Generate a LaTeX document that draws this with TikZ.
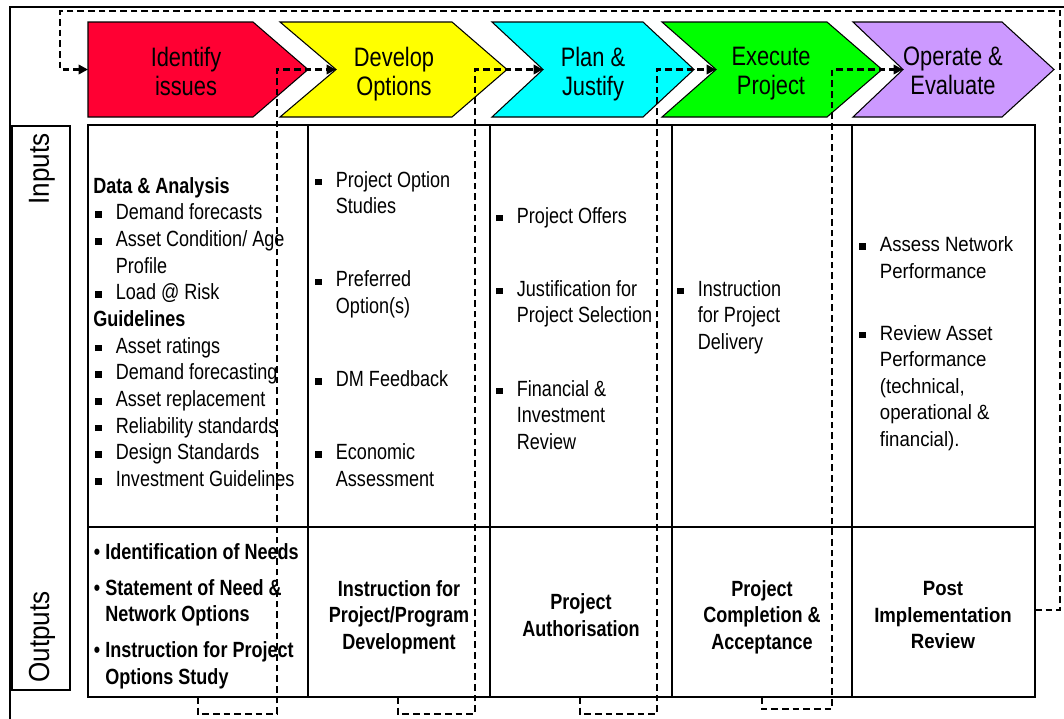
\documentclass[tikz,border=0pt]{standalone}
\usepackage{fontspec}
\usetikzlibrary{arrows.meta}

\newfontfamily\narrowfont{Liberation Sans}[FakeStretch=0.82]
\newfontfamily\plainfont{Liberation Sans}[FakeStretch=0.9]

\definecolor{stagered}{RGB}{255,0,51}
\definecolor{stageyellow}{RGB}{255,255,0}
\definecolor{stagecyan}{RGB}{0,255,255}
\definecolor{stagegreen}{RGB}{0,255,0}
\definecolor{stagepurple}{RGB}{204,153,255}

% square and round bullets with hanging indents
\newcommand{\sqbullet}{\makebox[17pt][l]{\hspace{1.5pt}\rule[1.5pt]{4.8pt}{4.8pt}}}
\newcommand{\sqindent}{\hspace*{17pt}}
\newcommand{\rdbullet}{\makebox[9pt][l]{\hspace{0.5pt}\textbullet}}
\newcommand{\rdindent}{\hspace*{9pt}}

\tikzset{
  stage/.style={draw=black, line width=0.8pt},
  stagelabel/.style={font={\narrowfont\fontsize{20}{21.75}\selectfont}, align=center, inner sep=0pt,
    execute at begin node=\strut, execute at end node=\strut},
  sidelabel/.style={font={\plainfont\fontsize{21.75}{24}\selectfont}, rotate=90, inner sep=0pt},
  grid/.style={line width=1.5pt},
  inlist/.style={font={\narrowfont\fontsize{16.5}{20}\selectfont}, align=left, anchor=north west, inner sep=0pt,
    execute at begin node=\strut},
  outlist/.style={inlist, font={\narrowfont\bfseries\fontsize{16.5}{20}\selectfont}},
  outtext/.style={font={\narrowfont\bfseries\fontsize{16.5}{20}\selectfont}, align=center, inner sep=0pt,
    execute at begin node=\strut, execute at end node=\strut},
  flow/.style={line width=2.2pt, dash pattern=on 5pt off 3pt, -{Triangle[length=7pt,width=7pt]}},
}

\begin{document}
\begin{tikzpicture}[x=0.75pt,y=-0.75pt]
\useasboundingbox (0,0) rectangle (1064,718);

% outer frame
\draw[line width=1.5pt] (10,725) -- (10,7) -- (1070,7);

% process stages
\draw[stage, fill=stagered] (88,22) -- (253,22) -- (308,69.5) -- (253,117) -- (88,117) -- cycle;
\draw[stage, fill=stageyellow] (280,22) -- (452,22) -- (507,69.5) -- (452,117) -- (280,117) -- (336,69.5) -- cycle;
\draw[stage, fill=stagecyan] (492,22) -- (643,22) -- (694,69.5) -- (643,117) -- (492,117) -- (543,69.5) -- cycle;
\draw[stage, fill=stagegreen] (662,22) -- (827,22) -- (882,69.5) -- (827,117) -- (662,117) -- (716,69.5) -- cycle;
\draw[stage, fill=stagepurple] (853,22) -- (1002,22) -- (1054,69.5) -- (1002,117) -- (853,117) -- (903,69.5) -- cycle;

\coordinate (identify-in) at (88,69.5);
\coordinate (develop-in) at (336,69.5);
\coordinate (plan-in) at (543,69.5);
\coordinate (execute-in) at (716,69.5);
\coordinate (operate-in) at (903,69.5);

\node[stagelabel] (identify) at (186,75.5) {Identify\\issues};
\node[stagelabel] (develop) at (394,75.5) {Develop\\Options};
\node[stagelabel] (plan) at (593,75.5) {Plan \&\\Justify};
\node[stagelabel] (execute) at (771,75.5) {Execute\\Project};
\node[stagelabel] (operate) at (953,75.5) {Operate \&\\Evaluate};

% row labels
\draw[line width=1pt] (12,126) rectangle (70,690);
\node[sidelabel] (inputs) at (42,169) {Inputs};
\node[sidelabel] (outputs) at (42,637) {Outputs};

% table
\draw[grid] (88,125) rectangle (1035,697);
\draw[grid] (88,527) -- (1035,527);
\foreach \x in {308,490,672,852}
  \draw[grid] (\x,125) -- (\x,697);

% inputs
\node[inlist] (in1) at (93,177) {\textbf{Data \& Analysis}\\
  \sqbullet Demand forecasts\\
  \sqbullet Asset Condition/ Age\\
  \sqindent Profile\\
  \sqbullet Load @ Risk\\
  \textbf{Guidelines}\\
  \sqbullet Asset ratings\\
  \sqbullet Demand forecasting\\
  \sqbullet Asset replacement\\
  \sqbullet Reliability standards\\
  \sqbullet Design Standards\\
  \sqbullet Investment Guidelines};
\node[inlist] (in2) at (313,171) {\sqbullet Project Option\\ \sqindent Studies\\[34.8pt]
  \sqbullet Preferred\\ \sqindent Option(s)\\[34.8pt]
  \sqbullet DM Feedback\\[34.8pt]
  \sqbullet Economic\\ \sqindent Assessment};
\node[inlist] (in3) at (494,207) {\sqbullet Project Offers\\[34.8pt]
  \sqbullet Justification for\\ \sqindent Project Selection\\[34.8pt]
  \sqbullet Financial \&\\ \sqindent Investment\\ \sqindent Review};
\node[inlist] (in4) at (675,280) {\sqbullet Instruction\\ \sqindent for Project\\ \sqindent Delivery};
\node[inlist, font={\plainfont\fontsize{15.5}{19.9}\selectfont}] (in5) at (857,236.5) {\sqbullet Assess Network\\ \sqindent Performance\\[26.5pt]
  \sqbullet Review Asset\\ \sqindent Performance\\ \sqindent (technical,\\ \sqindent operational \&\\ \sqindent financial).};

% outputs
\node[outlist] (out1) at (93,543) {\rdbullet Identification of Needs\\[7pt]
  \rdbullet Statement of Need \&\\ \rdindent Network Options\\[7pt]
  \rdbullet Instruction for Project\\ \rdindent Options Study};
\node[outtext] (out2) at (399,619) {Instruction for\\Project/Program\\Development};
\node[outtext] (out3) at (581,619) {Project\\Authorisation};
\node[outtext] (out4) at (762,619) {Project\\Completion \&\\Acceptance};
\node[outtext, font={\plainfont\bfseries\fontsize{15.5}{19.9}\selectfont}] (out5) at (943,619) {Post\\Implementation\\Review};

% hand-over from each stage to the next
\coordinate (s1) at (198,697);  \coordinate (v1) at (277,714);
\coordinate (s2) at (398,697);  \coordinate (v2) at (475,714);
\coordinate (s3) at (580,697);  \coordinate (v3) at (657,714);
\coordinate (s4) at (762,697);  \coordinate (v4) at (832,709);
\draw[flow] (s1) |- (v1) |- (develop-in);
\draw[flow] (s2) |- (v2) |- (plan-in);
\draw[flow] (s3) |- (v3) |- (execute-in);
\draw[flow] (s4) |- (v4) |- (operate-in);

% review feeds back to the start
\coordinate (fb-start) at (1035,610);
\coordinate (fb-corner) at (1060,11);
\coordinate (fb-left) at (60,69.5);
\draw[flow] (fb-start) -| (fb-corner) -| (fb-left) -- (identify-in);
\end{tikzpicture}
\end{document}
